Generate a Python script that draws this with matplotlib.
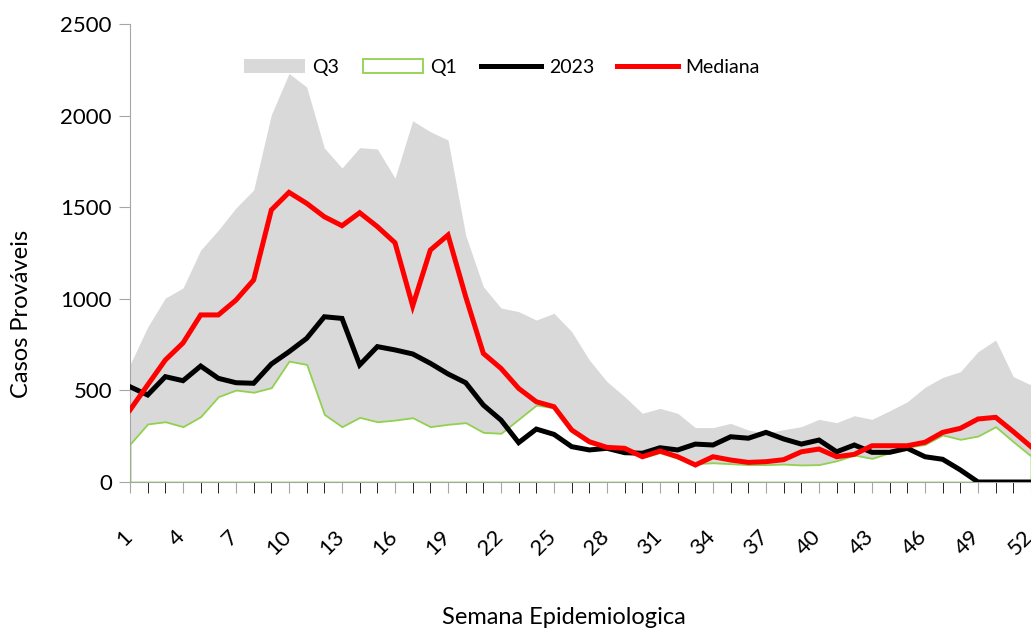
import numpy as np
import matplotlib
matplotlib.use("Agg")
import matplotlib.pyplot as plt
import matplotlib.transforms as mtransforms
from matplotlib.patches import Patch
from matplotlib.lines import Line2D

plt.rcParams['font.family'] = ['Lato', 'DejaVu Sans']

semanas = np.arange(1, 53)

q3 = [640, 846, 1004, 1059, 1266, 1375, 1496, 1594, 2005, 2230,
      2156, 1823, 1714, 1825, 1818, 1659, 1972, 1912, 1867, 1348,
      1066, 950, 930, 884, 921, 821, 666, 548, 466, 375,
      402, 375, 297, 297, 320, 284, 266, 286, 302, 342,
      324, 362, 342, 389, 438, 517, 571, 602, 711, 775,
      575, 530]

q1 = [207, 317, 329, 302, 357, 466, 502, 490, 515, 660,
      642, 369, 302, 353, 329, 338, 351, 302, 315, 324,
      271, 266, 343, 420, 405, 275, 212, 183, 178, 133,
      160, 130, 100, 105, 100, 95, 95, 98, 93, 95,
      116, 147, 129, 160, 190, 205, 257, 233, 251, 302,
      220, 142]

ano_2023 = [520, 475, 575, 553, 633, 566, 542, 539, 644, 711,
            784, 902, 893, 639, 739, 721, 699, 648, 590, 542,
            420, 338, 215, 289, 260, 193, 175, 184, 160, 157,
            187, 175, 207, 202, 247, 239, 271, 235, 207, 229,
            165, 202, 162, 162, 184, 138, 124, 66, 0, 0,
            0, 0]

mediana = [393, 530, 666, 759, 912, 912, 993, 1103, 1485, 1581,
           1521, 1448, 1399, 1470, 1394, 1306, 961, 1266, 1348, 1012,
           702, 620, 511, 438, 411, 284, 220, 189, 184, 138,
           169, 138, 93, 138, 120, 107, 111, 122, 165, 180,
           138, 151, 198, 198, 198, 217, 271, 293, 344, 353,
           275, 193]

fig = plt.figure(figsize=(10.31, 6.30), dpi=100)
ax = fig.add_axes([0.1261, 0.2349, 0.8739, 0.727])

ax.fill_between(semanas, 0, q3, color="#d9d9d9", linewidth=0, zorder=1)
ax.fill_between(semanas, 0, q1, facecolor="white", edgecolor="#92d050",
                linewidth=1.3, zorder=2)
ax.plot(semanas, ano_2023, color="black", linewidth=3.6, zorder=3,
        solid_joinstyle="miter")
ax.plot(semanas, mediana, color="#ff0000", linewidth=3.6, zorder=4,
        solid_joinstyle="miter")

ax.set_xlim(1, 52)
ax.set_ylim(0, 2500)
ax.set_yticks(np.arange(0, 2501, 500))
ax.set_xticks(semanas, minor=True)
ax.set_xticks(semanas[::3])
ax.set_xticklabels([str(s) for s in semanas[::3]], rotation=45,
                   ha="right", va="top", rotation_mode="anchor")

for s in ["top", "right"]:
    ax.spines[s].set_visible(False)
ax.spines["left"].set_color("#a6a6a6")
ax.spines["bottom"].set_color("#a6a6a6")
ax.tick_params(axis="both", colors="#a6a6a6", labelcolor="black",
               labelsize=16)
ax.tick_params(axis="x", which="both", length=8, direction="out")
ax.tick_params(axis="x", which="major", pad=13)
ax.tick_params(axis="y", length=8, pad=5)

fig.text(22 / 1031, 0.502, "Casos Prováveis", fontsize=17, rotation=90,
         ha="center", va="center")
fig.text(564 / 1031, 1 - 618 / 630, "Semana Epidemiologica", fontsize=17,
         ha="center", va="center")

handles = [
    Patch(facecolor="#d9d9d9", edgecolor="none", label="Q3"),
    Patch(facecolor="white", edgecolor="#92d050", linewidth=1.3, label="Q1"),
    Line2D([], [], color="black", linewidth=3.6, label="2023"),
    Line2D([], [], color="#ff0000", linewidth=3.6, label="Mediana"),
]
fig.legend(handles=handles, loc="center", bbox_to_anchor=(502 / 1031, 1 - 67.5 / 630),
           ncol=4, frameon=False, fontsize=14, handlelength=3.1,
           handleheight=0.72, columnspacing=1.2, handletextpad=0.4,
           borderpad=0)

# nudge the rotated labels down-left like the original
fig.canvas.draw()
offset = mtransforms.ScaledTranslation(-0.08, -0.15, fig.dpi_scale_trans)
for tick in ax.xaxis.get_major_ticks():
    tick.label1.set_transform(tick.label1.get_transform() + offset)

fig.savefig("out.png", dpi=100)
